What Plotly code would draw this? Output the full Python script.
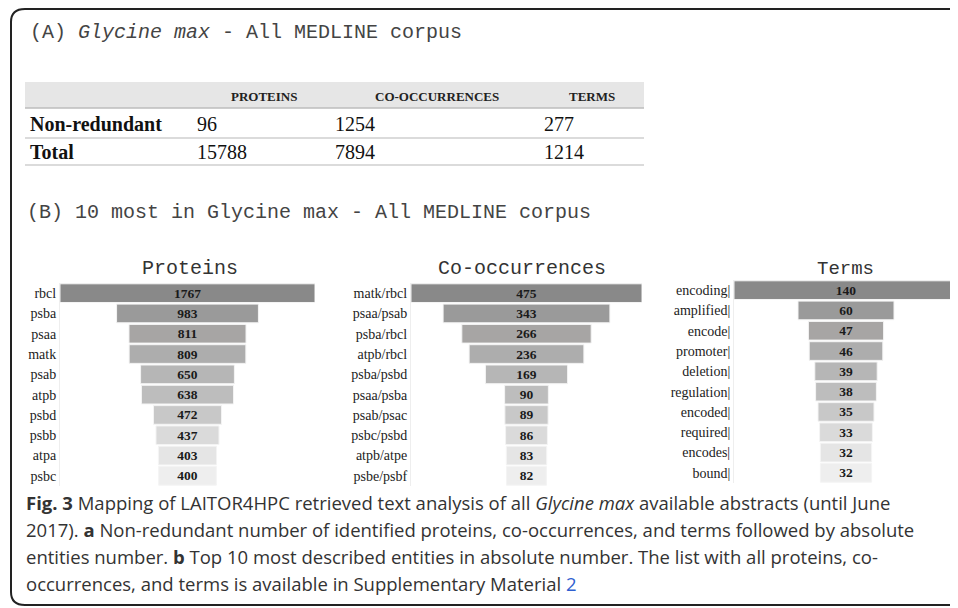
import plotly.graph_objects as go

# the page keeps its default 8px body margin, so the figure is drawn 8px in
W, H = 950, 600
OFF = 8

# ---- data -------------------------------------------------------------
table_cols = ["PROTEINS", "CO-OCCURRENCES", "TERMS"]
table_rows = ["Non-redundant", "Total"]
proteins_total = [96, 15788]
cooc_total = [1254, 7894]
terms_total = [277, 1214]

protein_names = ["rbcl", "psba", "psaa", "matk", "psab", "atpb", "psbd", "psbb", "atpa", "psbc"]
protein_counts = [1767, 983, 811, 809, 650, 638, 472, 437, 403, 400]

cooc_pairs = ["matk/rbcl", "psaa/psab", "psba/rbcl", "atpb/rbcl", "psba/psbd",
              "psaa/psba", "psab/psac", "psbc/psbd", "atpb/atpe", "psbe/psbf"]
cooc_counts = [475, 343, 266, 236, 169, 90, 89, 86, 83, 82]

term_words = ["encoding|", "amplified|", "encode|", "promoter|", "deletion|",
              "regulation|", "encoded|", "required|", "encodes|", "bound|"]
term_counts = [140, 60, 47, 46, 39, 38, 35, 33, 32, 32]

# grey ramp, darkest on top
bar_greys = ["#898989", "#9a9a9a", "#a7a5a4", "#adadad", "#b6b6b6",
             "#bdbdbd", "#c8c8c8", "#dadada", "#e5e5e5", "#eeeeee"]

MONO = "Liberation Mono, Courier New, monospace"
SERIF = "Liberation Serif, Times New Roman, serif"
SANS = "Open Sans, Noto Sans, sans-serif"


def px(x):
    return (x - OFF) / W


def py(y):
    return 1 - (y - OFF) / H


fig = go.Figure()

# ---- funnels (B) ------------------------------------------------------
panels = [
    (protein_names, protein_counts, 60, 315, 283, 486),
    (cooc_pairs, cooc_counts, 411, 642, 283, 486),
    (term_words, term_counts, 734, 958, 280, 483),
]

for i, (names, counts, x0, x1, y0, y1) in enumerate(panels, start=1):
    fig.add_trace(go.Funnel(
        y=names,
        x=counts,
        xaxis="x%d" % i,
        yaxis="y%d" % i,
        texttemplate="<b>%{x}</b>",
        textposition="inside",
        insidetextanchor="middle",
        constraintext="none",
        textfont=dict(family=SERIF, size=13.5, color="#1a1a1a"),
        marker=dict(color=bar_greys, line=dict(color="#f4f4f4", width=1)),
        connector=dict(visible=False),
        hoverinfo="y+x",
    ))
    half = max(counts) / 2
    fig.update_layout(**{
        "xaxis%d" % i: dict(domain=[px(x0), min(px(x1), 1)], range=[-half, half],
                            visible=False, anchor="y%d" % i),
        "yaxis%d" % i: dict(domain=[py(y1), py(y0)], anchor="x%d" % i,
                            showgrid=False, showline=True, linecolor="#eeeeee",
                            ticks="", tickfont=dict(family=SERIF, size=14, color="#222")),
    })

# ---- texts ------------------------------------------------------------
ann = [
    dict(x=px(28), y=py(32), text="(A) <i>Glycine max</i> - All MEDLINE corpus",
         xanchor="left", font=dict(family=MONO, size=20, color="#444")),
    dict(x=px(25), y=py(212), text="(B) 10 most in Glycine max - All MEDLINE corpus",
         xanchor="left", font=dict(family=MONO, size=20, color="#444")),
    dict(x=px(190), y=py(268), text="Proteins", xanchor="center",
         font=dict(family=MONO, size=20, color="#333")),
    dict(x=px(522), y=py(268), text="Co-occurrences", xanchor="center",
         font=dict(family=MONO, size=20, color="#333")),
    dict(x=px(845), y=py(269), text="Terms", xanchor="center",
         font=dict(family=MONO, size=19, color="#333")),
]

# table (A): header row, then one text per cell
head_x = [264, 437, 592]
for cx, c in zip(head_x, table_cols):
    ann.append(dict(x=px(cx), y=py(96), text="<b>%s</b>" % c, xanchor="center",
                    font=dict(family=SERIF, size=13, color="#222")))
row_y = [124, 152]
col_x = [195, 333, 542]
for ry, name, vals in zip(row_y, table_rows, zip(proteins_total, cooc_total, terms_total)):
    ann.append(dict(x=px(28), y=py(ry), text="<b>%s</b>" % name, xanchor="left",
                    font=dict(family=SERIF, size=20, color="#111")))
    for cx, v in zip(col_x, vals):
        ann.append(dict(x=px(cx), y=py(ry), text=str(v), xanchor="left",
                        font=dict(family=SERIF, size=20, color="#111")))

caption = [
    "<b>Fig. 3</b> Mapping of LAITOR4HPC retrieved text analysis of all <i>Glycine max</i> available abstracts (until June",
    "2017). <b>a</b> Non-redundant number of identified proteins, co-occurrences, and terms followed by absolute",
    "entities number. <b>b</b> Top 10 most described entities in absolute number. The list with all proteins, co-",
    "occurrences, and terms is available in Supplementary Material <span style='color:#2f5fd0'>2</span>",
]
for k, line in enumerate(caption):
    ann.append(dict(x=px(24), y=py(502 + 27.3 * k), text=line, xanchor="left",
                    font=dict(family=SANS, size=18.5, color="#333")))

for a in ann:
    a.update(xref="paper", yref="paper", showarrow=False, yanchor="middle")

# ---- frame, table band and rules -------------------------------------
frame = "M %f,%f Q %f,%f %f,%f L %f,%f M %f,%f L %f,%f Q %f,%f %f,%f L %f,%f" % (
    px(11), py(22), px(11), py(9), px(25), py(9), px(975), py(9),
    px(11), py(22), px(11), py(592), px(11), py(605), px(25), py(605), px(975), py(605),
)
shapes = [
    dict(type="rect", xref="paper", yref="paper", layer="below",
         x0=px(25), x1=px(644), y0=py(108), y1=py(82),
         fillcolor="#e6e6e6", line=dict(width=0)),
    dict(type="path", path=frame, xref="paper", yref="paper",
         line=dict(color="#222", width=2)),
]
for yy, col in [(108, "#bdbdbd"), (138, "#cfcfcf"), (165, "#cfcfcf")]:
    shapes.append(dict(type="line", xref="paper", yref="paper",
                       x0=px(25), x1=px(644), y0=py(yy), y1=py(yy),
                       line=dict(color=col, width=1.5)))

fig.update_layout(
    width=W, height=H,
    margin=dict(l=0, r=0, t=0, b=0),
    paper_bgcolor="white",
    plot_bgcolor="white",
    showlegend=False,
    funnelgap=0.08,
    annotations=ann,
    shapes=shapes,
)

fig.write_html("out.html")
